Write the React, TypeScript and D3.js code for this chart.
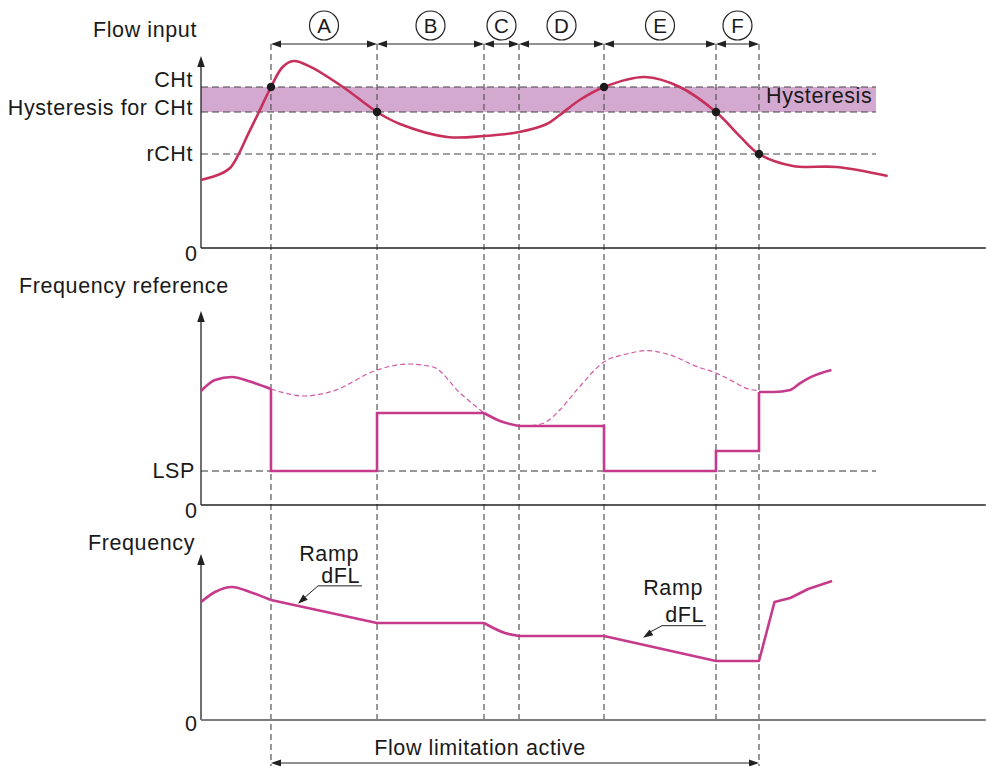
import React from "react";
import * as d3 from "d3";

// ---------- data ----------
const eventTimes = [10.2, 25.66, 41.25, 46.36, 58.75, 75.07, 81.34];
const phaseLabels = ["A", "B", "C", "D", "E", "F"];

const CHt = 80.5;
const hystLow = 68;
const rCHt = 47;
const LSP = 17;
const thresholdEnd = 98.4;
const axisEnd = 114.4;

// Flow input curve
const flowT = [0, 2.8, 4.23, 5.5, 6.85, 8.45, 10.2, 11.9, 13.5, 15.9, 20.7, 25.66, 29, 35.9, 41.25, 46.36, 50.4, 52.3, 55.2, 58.75, 64.7, 69.8, 75.07, 78.6, 81.34, 86.3, 92.7, 100.1];
const flowV = [34, 37, 40, 47, 56.8, 68, 80.5, 90.5, 93.5, 90.7, 80.5, 68, 62, 55.5, 56, 58, 62, 66.5, 74, 80.5, 85.5, 80.5, 68, 55.7, 47, 41, 40.5, 36];
const flowDots: [number, number][] = [[10.2, CHt], [25.66, hystLow], [58.75, CHt], [75.07, hystLow], [81.34, rCHt]];

// Frequency reference (solid, pieces)
const refSmooth1: [number, number][] = [[0, 57], [2.04, 62.5], [4.52, 64], [7.14, 61.7], [10.2, 58]];
const refStep1: [number, number][] = [[10.2, 58], [10.2, LSP], [25.66, LSP], [25.66, 46], [41.25, 46]];
const refSmooth2: [number, number][] = [[41.25, 46], [43.6, 42], [46.36, 39.5]];
const refStep2: [number, number][] = [[46.36, 39.5], [58.75, 39.5], [58.75, LSP], [75.07, LSP], [75.07, 27], [81.34, 27], [81.34, 56.5]];
const refSmooth3: [number, number][] = [[81.34, 56.5], [83.5, 56.5], [85.9, 57.5], [87.3, 60.8], [88.8, 63.8], [91.9, 67.5]];
// Frequency reference without limitation (dashed)
const refDashed1: [number, number][] = [[10.2, 58], [15.16, 54.5], [19.24, 57], [25.66, 67.5], [30.17, 70.5], [33.82, 69], [37.76, 56], [41.25, 46]];
const refDashed2: [number, number][] = [[47, 39.5], [48.9, 40], [50.4, 41.7], [52.3, 47.5], [55.2, 59.2], [58.8, 71.7], [62.05, 75.5], [64.97, 77.2], [68.4, 75], [72.3, 69.2], [75.2, 65.8], [77.6, 61.7], [79.5, 58.3], [81.25, 57.2]];

// Frequency
const freqSmooth1: [number, number][] = [[0, 59], [2.04, 64], [4.52, 66.5], [7.14, 64], [10.2, 60]];
const freqLin1: [number, number][] = [[10.2, 60], [25.66, 48.5], [41.25, 48.5]];
const freqSmooth2: [number, number][] = [[41.25, 48.5], [44.3, 43.5], [46.36, 42]];
const freqLin2: [number, number][] = [[46.36, 42], [58.75, 42], [75.07, 29.5], [81.34, 29.5], [83.6, 59], [85.9, 61], [88.5, 65.5], [92, 69.5]];

const rampTips = [14.14, 64.43];

// ---------- layout ----------
const W = 986;
const H = 766;
const x = d3.scaleLinear().domain([0, 100]).range([201, 887]);
const yTop = d3.scaleLinear().domain([0, 100]).range([248, 48]);
const yMid = d3.scaleLinear().domain([0, 100]).range([505, 305]);
const yBot = d3.scaleLinear().domain([0, 100]).range([720, 520]);

const FONT = "'Liberation Sans', Arial, Helvetica, sans-serif";
const FLOW_COLOR = "#c8305c";
const FREQ_COLOR = "#c63a8c";
const DASH_COLOR = "#d05aa4";
const BAND = "#d4a9d0";

function line(y: d3.ScaleLinear<number, number>, curve: d3.CurveFactory) {
  return d3.line<[number, number]>().x((d) => x(d[0])).y((d) => y(d[1])).curve(curve);
}

function arrowHead(tx: number, ty: number, dx: number, dy: number, len = 10, hw = 3.5) {
  const n = Math.hypot(dx, dy);
  const ux = dx / n, uy = dy / n;
  const bx = tx - ux * len, by = ty - uy * len;
  const px = -uy * hw, py = ux * hw;
  return `${tx},${ty} ${bx + px},${by + py} ${bx - px},${by - py}`;
}

function interp(pts: [number, number][], t: number) {
  for (let i = 0; i < pts.length - 1; i++) {
    const [t0, v0] = pts[i];
    const [t1, v1] = pts[i + 1];
    if (t >= t0 && t <= t1 && t1 > t0) return v0 + ((t - t0) / (t1 - t0)) * (v1 - v0);
  }
  return pts[pts.length - 1][1];
}

export default function App() {
  const flowPts: [number, number][] = flowT.map((t, i) => [t, flowV[i]]);
  const smoothTop = line(yTop, d3.curveCatmullRom.alpha(0.5));
  const smoothMid = line(yMid, d3.curveMonotoneX);
  const linMid = line(yMid, d3.curveLinear);
  const smoothBot = line(yBot, d3.curveMonotoneX);
  const linBot = line(yBot, d3.curveLinear);

  const textStyle = { fontFamily: FONT, fontSize: 21.5, fill: "#1a1a1a", letterSpacing: 0.6 } as const;

  const panels = [
    { y: yTop, top: 96, axisColor: "#222" },
    { y: yMid, top: 97, axisColor: "#222" },
    { y: yBot, top: 83, axisColor: "#7d7d7d" },
  ];

  const rampAnn = [
    { t: rampTips[0], lift: 2, dx: 20, dy: -18, ramp: 25, dfl: 3 },
    { t: rampTips[1], lift: 7, dx: 19, dy: -12, ramp: 31, dfl: 4 },
  ];

  const arrowY = 44;
  const allBot = [...freqLin1, ...freqLin2];

  return (
    <svg width={W} height={H} style={{ position: "absolute", left: 0, top: 0, background: "#fff" }}>
      {/* hysteresis band */}
      <rect x={x(0)} y={yTop(CHt)} width={x(thresholdEnd) - x(0)} height={yTop(hystLow) - yTop(CHt)} fill={BAND} />

      {/* threshold dashed lines */}
      {[CHt, hystLow, rCHt].map((v, i) => (
        <line key={"th" + i} x1={x(0)} x2={x(thresholdEnd)} y1={yTop(v)} y2={yTop(v)} stroke="#444" strokeWidth={1.2} strokeDasharray="7,4" />
      ))}
      <line x1={x(0)} x2={x(thresholdEnd)} y1={yMid(LSP)} y2={yMid(LSP)} stroke="#333" strokeWidth={1.2} strokeDasharray="7,4" />

      {/* vertical event lines */}
      {eventTimes.map((t, i) => {
        const long = i === 0 || i === eventTimes.length - 1;
        return (
          <line key={"ev" + i} x1={x(t)} x2={x(t)} y1={arrowY} y2={long ? 766 : yBot(0)} stroke="#555" strokeWidth={1.2} strokeDasharray="6,4" />
        );
      })}

      {/* axes */}
      {panels.map((p, i) => (
        <g key={"ax" + i}>
          <line x1={x(0)} x2={x(0)} y1={p.y(0)} y2={p.y(p.top) + 8} stroke="#222" strokeWidth={1.3} />
          <polygon points={arrowHead(x(0), p.y(p.top), 0, -1, 11, 3.8)} fill="#222" />
          <line x1={x(0)} x2={x(axisEnd)} y1={p.y(0)} y2={p.y(0)} stroke={p.axisColor} strokeWidth={i === 2 ? 2 : 1.5} />
          <text x={197} y={p.y(0) + (i === 2 ? 11 : 13)} textAnchor="end" style={{ ...textStyle, letterSpacing: 0 }}>0</text>
        </g>
      ))}

      {/* phase arrows and labels */}
      {phaseLabels.map((lab, i) => {
        const x1 = x(eventTimes[i]);
        const x2 = x(eventTimes[i + 1]);
        const cx = (x1 + x2) / 2;
        return (
          <g key={"ph" + lab}>
            <line x1={x1 + 2} x2={x2 - 2} y1={arrowY} y2={arrowY} stroke="#222" strokeWidth={1.2} />
            <polygon points={arrowHead(x1, arrowY, -1, 0, 10, 3.5)} fill="#222" />
            <polygon points={arrowHead(x2, arrowY, 1, 0, 10, 3.5)} fill="#222" />
            <circle cx={cx} cy={25.5} r={14.5} fill="none" stroke="#222" strokeWidth={1.2} />
            <text x={cx} y={33} textAnchor="middle" style={{ ...textStyle, fontSize: 20.5, letterSpacing: 0 }}>{lab}</text>
          </g>
        );
      })}

      {/* flow input curve */}
      <path d={smoothTop(flowPts) || ""} fill="none" stroke={FLOW_COLOR} strokeWidth={2.6} />
      {flowDots.map((d, i) => (
        <circle key={"dot" + i} cx={x(d[0])} cy={yTop(d[1])} r={4.2} fill="#1a1a1a" />
      ))}

      {/* frequency reference */}
      <path d={smoothMid(refDashed1) || ""} fill="none" stroke={DASH_COLOR} strokeWidth={1.2} strokeDasharray="5,3" />
      <path d={smoothMid(refDashed2) || ""} fill="none" stroke={DASH_COLOR} strokeWidth={1.2} strokeDasharray="5,3" />
      {[refSmooth1, refSmooth2, refSmooth3].map((s, i) => (
        <path key={"rs" + i} d={smoothMid(s) || ""} fill="none" stroke={FREQ_COLOR} strokeWidth={2.6} />
      ))}
      {[refStep1, refStep2].map((s, i) => (
        <path key={"rl" + i} d={linMid(s) || ""} fill="none" stroke={FREQ_COLOR} strokeWidth={2.6} strokeLinejoin="miter" />
      ))}

      {/* frequency */}
      {[freqSmooth1, freqSmooth2].map((s, i) => (
        <path key={"fs" + i} d={smoothBot(s) || ""} fill="none" stroke={FREQ_COLOR} strokeWidth={2.6} />
      ))}
      {[freqLin1, freqLin2].map((s, i) => (
        <path key={"fl" + i} d={linBot(s) || ""} fill="none" stroke={FREQ_COLOR} strokeWidth={2.6} strokeLinejoin="round" />
      ))}

      {/* ramp annotations */}
      {rampAnn.map((a, i) => {
        const tx = x(a.t);
        const ty = yBot(interp(allBot, a.t)) - a.lift;
        const ux = tx + a.dx;
        const uy = ty + a.dy;
        const uEnd = ux + 44;
        return (
          <g key={"ramp" + i}>
            <line x1={ux} y1={uy} x2={tx + 4} y2={ty - 4} stroke="#222" strokeWidth={1} />
            <polygon points={arrowHead(tx, ty, -a.dx, -a.dy, 10, 3.5)} fill="#222" />
            <line x1={ux} y1={uy} x2={uEnd} y2={uy} stroke="#222" strokeWidth={1} />
            <text x={uEnd - 2} y={uy - a.dfl} textAnchor="end" style={textStyle}>dFL</text>
            <text x={uEnd - 3} y={uy - a.ramp} textAnchor="end" style={textStyle}>Ramp</text>
          </g>
        );
      })}

      {/* flow limitation active */}
      <line x1={x(eventTimes[0]) + 2} x2={x(eventTimes[6]) - 2} y1={763} y2={763} stroke="#222" strokeWidth={1.2} />
      <polygon points={arrowHead(x(eventTimes[0]), 763, -1, 0, 10, 3.5)} fill="#222" />
      <polygon points={arrowHead(x(eventTimes[6]), 763, 1, 0, 10, 3.5)} fill="#222" />
      <text x={480} y={755} textAnchor="middle" style={textStyle}>Flow limitation active</text>

      {/* labels */}
      <text x={197} y={37} textAnchor="end" style={textStyle}>Flow input</text>
      <text x={193} y={yTop(CHt)} textAnchor="end" style={textStyle}>CHt</text>
      <text x={193} y={yTop(hystLow) + 3} textAnchor="end" style={textStyle}>Hysteresis for CHt</text>
      <text x={193} y={yTop(rCHt) + 7} textAnchor="end" style={textStyle}>rCHt</text>
      <text x={766} y={103} style={textStyle}>Hysteresis</text>
      <text x={19} y={293} style={textStyle}>Frequency reference</text>
      <text x={195} y={yMid(LSP) + 7} textAnchor="end" style={textStyle}>LSP</text>
      <text x={195} y={550} textAnchor="end" style={textStyle}>Frequency</text>
    </svg>
  );
}
